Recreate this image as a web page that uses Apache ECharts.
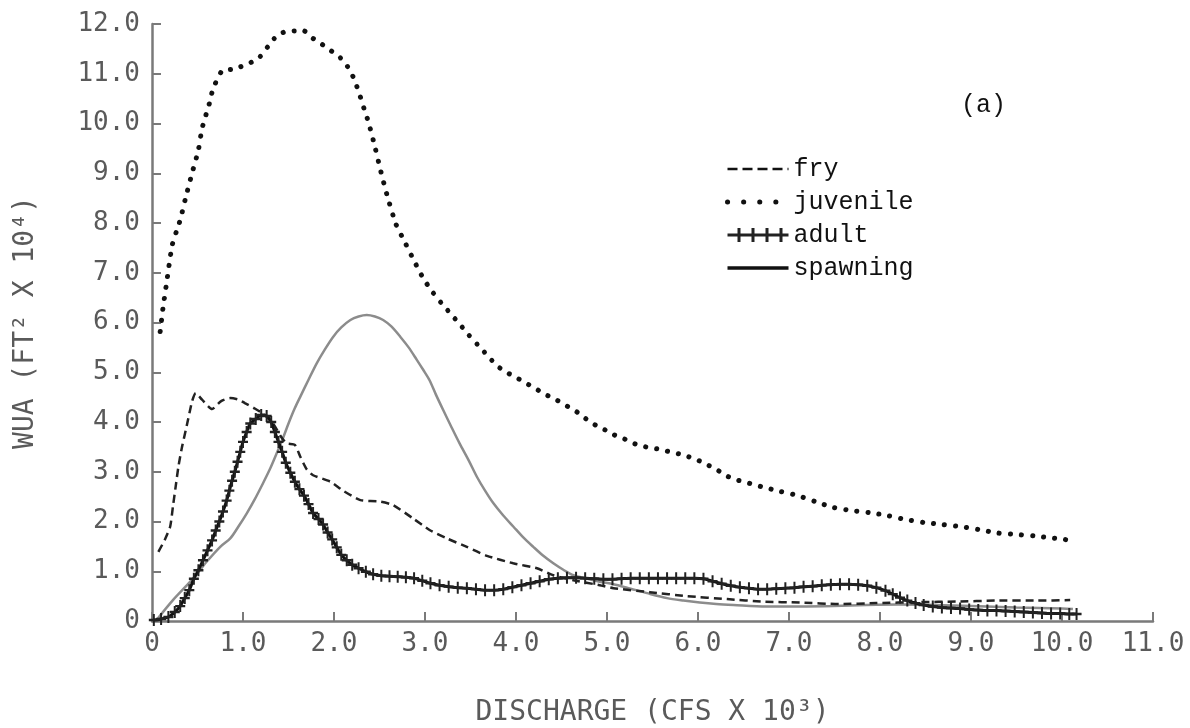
<!DOCTYPE html>
<html>
<head>
<meta charset="utf-8">
<script src="https://cdn.jsdelivr.net/npm/echarts@6/dist/echarts.min.js"></script>
<style>
html,body{margin:0;padding:0;background:#fff;}
#chart{width:1190px;height:728px;}
</style>
</head>
<body>
<div id="chart"></div>
<script>
// ---- data (discharge in 10^3 cfs, WUA in 10^4 ft^2) ----
const seriesNames = ['fry', 'juvenile', 'adult', 'spawning'];
const xTicks = [0, 1, 2, 3, 4, 5, 6, 7, 8, 9, 10, 11];
const yTicks = [0, 1, 2, 3, 4, 5, 6, 7, 8, 9, 10, 11, 12];

const juvenileX = [0.09,0.12,0.16,0.22,0.27,0.31,0.37,0.44,0.51,0.55,0.63,0.67,0.77,0.88,0.97,1.08,1.18,1.28,1.37,1.47,1.57,1.67,1.77,1.87,1.97,2.07,2.17,2.23,2.28,2.33,2.38,2.45,2.51,2.58,2.68,2.78,2.88,2.98,3.08,3.18,3.28,3.38,3.48,3.58,3.68,3.78,3.88,3.97,4.07,4.18,4.28,4.38,4.48,4.58,4.68,4.78,4.88,4.98,5.08,5.18,5.28,5.38,5.48,5.59,5.69,5.79,5.90,5.99,6.09,6.20,6.30,6.40,6.50,6.60,6.70,6.89,7.10,7.29,7.49,7.69,7.88,8.08,8.28,8.48,8.68,8.88,9.08,9.29,9.49,9.70,9.89,10.00,10.10];
const juvenileY = [5.82,6.28,6.79,7.54,7.84,8.06,8.51,9.00,9.47,9.90,10.40,10.69,11.06,11.09,11.14,11.22,11.33,11.56,11.76,11.85,11.86,11.86,11.71,11.59,11.46,11.32,11.09,10.85,10.59,10.30,10.02,9.53,9.07,8.58,7.98,7.61,7.24,6.89,6.62,6.39,6.18,5.97,5.75,5.55,5.35,5.15,5.01,4.93,4.82,4.71,4.60,4.50,4.41,4.30,4.19,4.05,3.93,3.84,3.74,3.67,3.58,3.52,3.48,3.45,3.40,3.36,3.30,3.24,3.15,3.05,2.93,2.85,2.80,2.75,2.70,2.61,2.52,2.40,2.28,2.22,2.18,2.12,2.04,1.98,1.94,1.90,1.84,1.77,1.74,1.71,1.67,1.65,1.61];

const fryX = [0.07,0.14,0.20,0.23,0.26,0.29,0.33,0.38,0.44,0.48,0.55,0.66,0.76,0.86,0.95,1.02,1.12,1.22,1.33,1.42,1.48,1.57,1.63,1.70,1.77,1.96,2.10,2.29,2.51,2.65,2.87,3.05,3.24,3.46,3.68,3.97,4.23,4.41,4.63,4.92,5.07,5.47,5.88,6.32,6.72,7.12,7.56,7.96,8.44,8.84,9.28,9.72,10.09];
const fryY = [1.39,1.63,1.90,2.30,2.70,3.10,3.50,3.91,4.41,4.58,4.45,4.26,4.42,4.48,4.45,4.38,4.28,4.17,3.97,3.70,3.57,3.54,3.30,3.05,2.93,2.80,2.62,2.43,2.40,2.33,2.06,1.83,1.66,1.49,1.31,1.16,1.06,0.92,0.82,0.72,0.66,0.58,0.50,0.44,0.39,0.37,0.34,0.36,0.38,0.39,0.41,0.41,0.42];

const adultX = [0.02,0.10,0.18,0.25,0.31,0.36,0.41,0.46,0.51,0.56,0.61,0.66,0.70,0.74,0.78,0.82,0.85,0.88,0.91,0.94,0.97,1.00,1.04,1.08,1.14,1.20,1.26,1.31,1.35,1.39,1.43,1.47,1.52,1.57,1.62,1.67,1.72,1.77,1.83,1.88,1.93,1.98,2.03,2.08,2.14,2.20,2.27,2.35,2.43,2.52,2.61,2.70,2.79,2.88,2.97,3.06,3.16,3.26,3.36,3.46,3.56,3.66,3.76,3.86,3.96,4.06,4.16,4.26,4.36,4.46,4.56,4.66,4.76,4.86,4.96,5.06,5.16,5.26,5.36,5.46,5.56,5.66,5.76,5.86,5.96,6.06,6.16,6.26,6.36,6.46,6.56,6.66,6.76,6.86,6.96,7.06,7.16,7.26,7.36,7.46,7.56,7.66,7.76,7.86,7.96,8.06,8.14,8.22,8.30,8.39,8.48,8.58,8.68,8.78,8.88,8.98,9.08,9.18,9.28,9.38,9.48,9.58,9.68,9.78,9.88,9.98,10.08,10.16];
const adultY = [0.02,0.04,0.08,0.18,0.30,0.46,0.62,0.85,1.02,1.22,1.42,1.62,1.82,2.00,2.20,2.42,2.62,2.82,3.00,3.20,3.40,3.60,3.80,3.97,4.06,4.14,4.12,4.00,3.80,3.60,3.40,3.18,2.98,2.80,2.65,2.52,2.35,2.17,2.05,1.94,1.78,1.64,1.48,1.33,1.22,1.13,1.06,0.99,0.94,0.91,0.90,0.89,0.88,0.86,0.81,0.76,0.72,0.69,0.67,0.66,0.64,0.62,0.62,0.64,0.68,0.72,0.76,0.80,0.84,0.86,0.87,0.87,0.86,0.85,0.84,0.84,0.85,0.86,0.86,0.86,0.86,0.86,0.86,0.86,0.86,0.85,0.80,0.75,0.71,0.68,0.66,0.64,0.64,0.65,0.66,0.67,0.69,0.70,0.72,0.73,0.74,0.74,0.73,0.71,0.67,0.61,0.54,0.47,0.41,0.36,0.32,0.29,0.27,0.26,0.25,0.23,0.22,0.21,0.21,0.20,0.19,0.18,0.17,0.16,0.15,0.15,0.14,0.14];

const spawningX = [0.05,0.23,0.42,0.53,0.60,0.75,0.86,0.95,1.04,1.13,1.22,1.30,1.37,1.44,1.50,1.57,1.63,1.72,1.81,1.90,1.99,2.08,2.18,2.27,2.36,2.45,2.54,2.63,2.73,2.82,2.91,2.98,3.05,3.12,3.20,3.29,3.38,3.48,3.57,3.66,3.75,3.86,3.97,4.08,4.19,4.30,4.41,4.52,4.63,4.78,4.92,5.07,5.22,5.44,5.66,5.84,6.02,6.20,6.39,6.75,7.12,7.49,7.85,8.20,8.60,9.00,9.50,10.00,10.12];
const spawningY = [0.02,0.42,0.79,1.03,1.19,1.49,1.66,1.90,2.16,2.45,2.77,3.07,3.37,3.68,3.97,4.28,4.51,4.85,5.18,5.46,5.71,5.90,6.05,6.12,6.15,6.12,6.05,5.92,5.71,5.50,5.25,5.05,4.84,4.55,4.24,3.90,3.57,3.23,2.90,2.62,2.37,2.12,1.90,1.68,1.49,1.31,1.16,1.03,0.92,0.85,0.79,0.74,0.67,0.56,0.46,0.41,0.37,0.34,0.32,0.29,0.29,0.30,0.32,0.33,0.32,0.30,0.27,0.25,0.24];

const zip = (xs, ys) => xs.map((x, i) => [x, ys[i]]);

const axisFont = 'DejaVu Sans Mono';
const labelColor = '#5a5a5a';
const axisColor = '#7a7a7a';
const tickFmt = v => (v === 0 ? '0' : v.toFixed(1));
const noSymbol = { color: 'rgba(0,0,0,0)', borderWidth: 0, opacity: 0 };

const chart = echarts.init(document.getElementById('chart'), null, { renderer: 'canvas' });
chart.setOption({
  animation: false,
  backgroundColor: '#fff',
  title: {
    text: '(a)', left: 956, top: 88,
    textStyle: { fontFamily: 'Liberation Mono', fontSize: 25, fontWeight: 'normal', color: '#111' }
  },
  legend: {
    orient: 'vertical', left: 720, top: 151,
    itemWidth: 61, itemHeight: 14, itemGap: 7,
    textStyle: { fontFamily: 'Liberation Mono', fontSize: 25, color: '#111', lineHeight: 26 },
    data: [
      { name: 'fry', itemStyle: noSymbol, lineStyle: { color: '#111', width: 2.5, type: [10, 5] } },
      { name: 'juvenile', itemStyle: noSymbol, lineStyle: { color: '#111', width: 5, type: [0.1, 16], cap: 'round' } },
      { name: 'adult', icon: 'path://M0,5.5H61V8.5H0Z M10,0H13V14H10Z M24,0H27V14H24Z M38,0H41V14H38Z M52,0H55V14H52Z' },
      { name: 'spawning', itemStyle: noSymbol, lineStyle: { color: '#111', width: 3.5, type: 'solid' } }
    ]
  },
  grid: { left: 152, right: 37, top: 24, bottom: 107, outerBoundsMode: 'none', containLabel: false },
  xAxis: {
    type: 'value', min: xTicks[0], max: xTicks[xTicks.length - 1], interval: 1,
    name: 'DISCHARGE (CFS X 10³)', nameLocation: 'middle', nameGap: 78,
    nameTextStyle: { fontFamily: axisFont, fontSize: 28, color: labelColor },
    axisLine: { show: true, onZero: false, lineStyle: { color: axisColor, width: 2.5 } },
    axisTick: { show: true, inside: true, length: 9, lineStyle: { color: axisColor, width: 2 } },
    axisLabel: { formatter: tickFmt, margin: 10, fontFamily: axisFont, fontSize: 26, color: labelColor },
    splitLine: { show: false }
  },
  yAxis: {
    type: 'value', min: yTicks[0], max: yTicks[yTicks.length - 1], interval: 1,
    name: 'WUA (FT² X 10⁴)', nameLocation: 'middle', nameGap: 112, nameRotate: 90,
    nameTextStyle: { fontFamily: axisFont, fontSize: 28, color: labelColor },
    axisLine: { show: true, onZero: false, lineStyle: { color: axisColor, width: 2.5 } },
    axisTick: { show: true, inside: true, length: 9, lineStyle: { color: axisColor, width: 2 } },
    axisLabel: { formatter: tickFmt, margin: 12, fontFamily: axisFont, fontSize: 26, color: labelColor },
    splitLine: { show: false }
  },
  series: [
    {
      name: 'spawning', type: 'line', data: zip(spawningX, spawningY), smooth: 0.3,
      symbol: 'none', z: 2,
      lineStyle: { color: '#8c8c8c', width: 2.5 }, itemStyle: { color: '#8c8c8c' }
    },
    {
      name: 'fry', type: 'line', data: zip(fryX, fryY), smooth: 0.2,
      symbol: 'none', z: 3,
      lineStyle: { color: '#222', width: 2.5, type: [8, 5] }, itemStyle: { color: '#222' }
    },
    {
      name: 'adult', type: 'line', data: zip(adultX, adultY), smooth: 0.2,
      symbol: 'path://M4,0H6V4H10V6H6V10H4V6H0V4H4Z', symbolSize: [10, 12], showSymbol: true, z: 4,
      lineStyle: { color: '#111', width: 3 }, itemStyle: { color: '#222' }
    },
    {
      name: 'juvenile', type: 'line', data: zip(juvenileX, juvenileY), smooth: 0.2,
      symbol: 'none', z: 5,
      lineStyle: { color: '#111', width: 5, type: [0.1, 11], cap: 'round' }, itemStyle: { color: '#111' }
    }
  ]
});
</script>
</body>
</html>
